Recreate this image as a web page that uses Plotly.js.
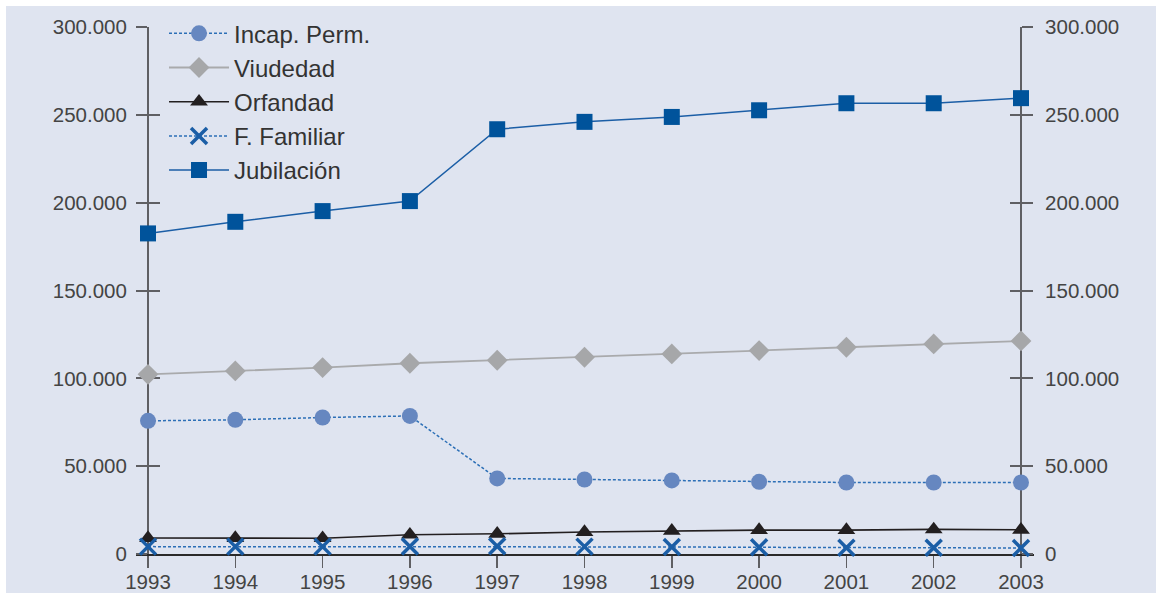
<!DOCTYPE html>
<html>
<head>
<meta charset="utf-8">
<script src="https://cdn.plot.ly/plotly-3.0.1.min.js"></script>
<style>
html,body{margin:0;padding:0;background:#ffffff;}
#chart{position:absolute;left:6px;top:6px;width:1150px;height:587px;}
</style>
</head>
<body>
<div id="chart"></div>
<script>
const years = [1993,1994,1995,1996,1997,1998,1999,2000,2001,2002,2003];
const yearLabels = ["1993","1994","1995","1996","1997","1998","1999","2000","2001","2002","2003"];
const incapPerm = [75800,76400,77700,78600,43000,42400,41900,41100,40700,40700,40700];
const viudedad  = [102300,104200,106100,108600,110300,112000,113900,115800,117700,119600,121300];
const orfandad  = [9100,9100,9000,11000,11500,12500,13200,13600,13600,14000,13800];
const fFamiliar = [4200,4200,4200,4300,4400,4200,4000,3800,3600,3500,3400];
const jubilacion= [182500,189100,195200,200900,241800,246000,248800,252600,256600,256600,259500];
const yTicks = [0,50000,100000,150000,200000,250000,300000];

const axisGrey = '#5f5f63';
const tickFont = {family:'Liberation Sans, Arial, sans-serif', size:20.5, color:'#444444'};

const traces = [
  {name:'Incap. Perm.', x:years, y:incapPerm, mode:'lines+markers',
   line:{color:'#2c6fb6', width:1.5, dash:'3px,2px'},
   marker:{symbol:'circle', size:16, color:'#6687c0'}},
  {name:'Viudedad', x:years, y:viudedad, mode:'lines+markers',
   line:{color:'#a9aaac', width:1.8},
   marker:{symbol:'diamond', size:16, color:'#a6a7a9'}},
  {name:'Orfandad', x:years, y:orfandad, mode:'lines+markers',
   line:{color:'#231f20', width:1.6},
   marker:{symbol:'triangle-up', size:15.5, color:'#231f20'}},
  {name:'F. Familiar', x:years, y:fFamiliar, mode:'lines+markers',
   line:{color:'#2c6fb6', width:1.5, dash:'3px,2px'},
   marker:{symbol:'x-thin-open', size:16, color:'#1b5ea6', line:{width:3.5, color:'#1b5ea6'}}},
  {name:'Jubilación', x:years, y:jubilacion, mode:'lines+markers',
   line:{color:'#1b5ea6', width:1.5},
   marker:{symbol:'square', size:16, color:'#00539b'}}
].map(t => Object.assign(t, {cliponaxis:false}));

const yBase = {range:[0,300000], tickvals:yTicks, tickformat:',d', showgrid:false, zeroline:false,
  fixedrange:true, layer:'below traces'};
const leftPos = 12/898, rightPos = 885/898;

const layout = {
  width:1150, height:587,
  margin:{l:130, r:122, t:20.7, b:38.7, pad:0, autoexpand:false},
  paper_bgcolor:'#dfe4f0', plot_bgcolor:'#dfe4f0',
  separators:',.',
  showlegend:true,
  legend:{x:0.0312, y:1.03, xanchor:'left', yanchor:'top', bgcolor:'rgba(0,0,0,0)',
    font:{family:'Liberation Sans, Arial, sans-serif', size:24, color:'#333333'},
    itemwidth:60, tracegroupgap:0},
  xaxis:{range:[1992.8625,2003.1489], tickvals:years, ticktext:yearLabels,
    showline:true, linecolor:'#2a2a2a', linewidth:1.5, ticks:'outside', ticklen:12,
    tickwidth:1.5, tickcolor:axisGrey, tickfont:tickFont, showgrid:false, zeroline:false,
    ticklabelstandoff:-3, layer:'below traces'},
  yaxis:Object.assign({}, yBase, {anchor:'free', position:leftPos, side:'left',
    showline:true, linecolor:axisGrey, linewidth:2, ticks:'outside', ticklen:11,
    tickwidth:2, tickcolor:axisGrey, tickfont:tickFont, ticklabelstandoff:5}),
  yaxis2:Object.assign({}, yBase, {anchor:'free', position:rightPos, side:'right', overlaying:'y',
    showline:true, linecolor:axisGrey, linewidth:2, ticks:'outside', ticklen:11,
    tickwidth:2, tickcolor:axisGrey, tickfont:tickFont, ticklabelstandoff:8}),
  yaxis3:Object.assign({}, yBase, {anchor:'free', position:leftPos, side:'left', overlaying:'y',
    showline:false, ticks:'inside', ticklen:11, tickwidth:2, tickcolor:axisGrey, showticklabels:false}),
  yaxis4:Object.assign({}, yBase, {anchor:'free', position:rightPos, side:'right', overlaying:'y',
    showline:false, ticks:'inside', ticklen:11, tickwidth:2, tickcolor:axisGrey, showticklabels:false})
};

// invisible helper traces that activate the auxiliary (crossing-tick) axes
const aux = ['y2','y3','y4'].map(ax => ({x:[years[0]], y:[0], yaxis:ax, mode:'markers',
  marker:{opacity:0}, showlegend:false, hoverinfo:'skip'}));

Plotly.newPlot('chart', traces.concat(aux), layout, {displayModeBar:false, staticPlot:true});
</script>
</body>
</html>
